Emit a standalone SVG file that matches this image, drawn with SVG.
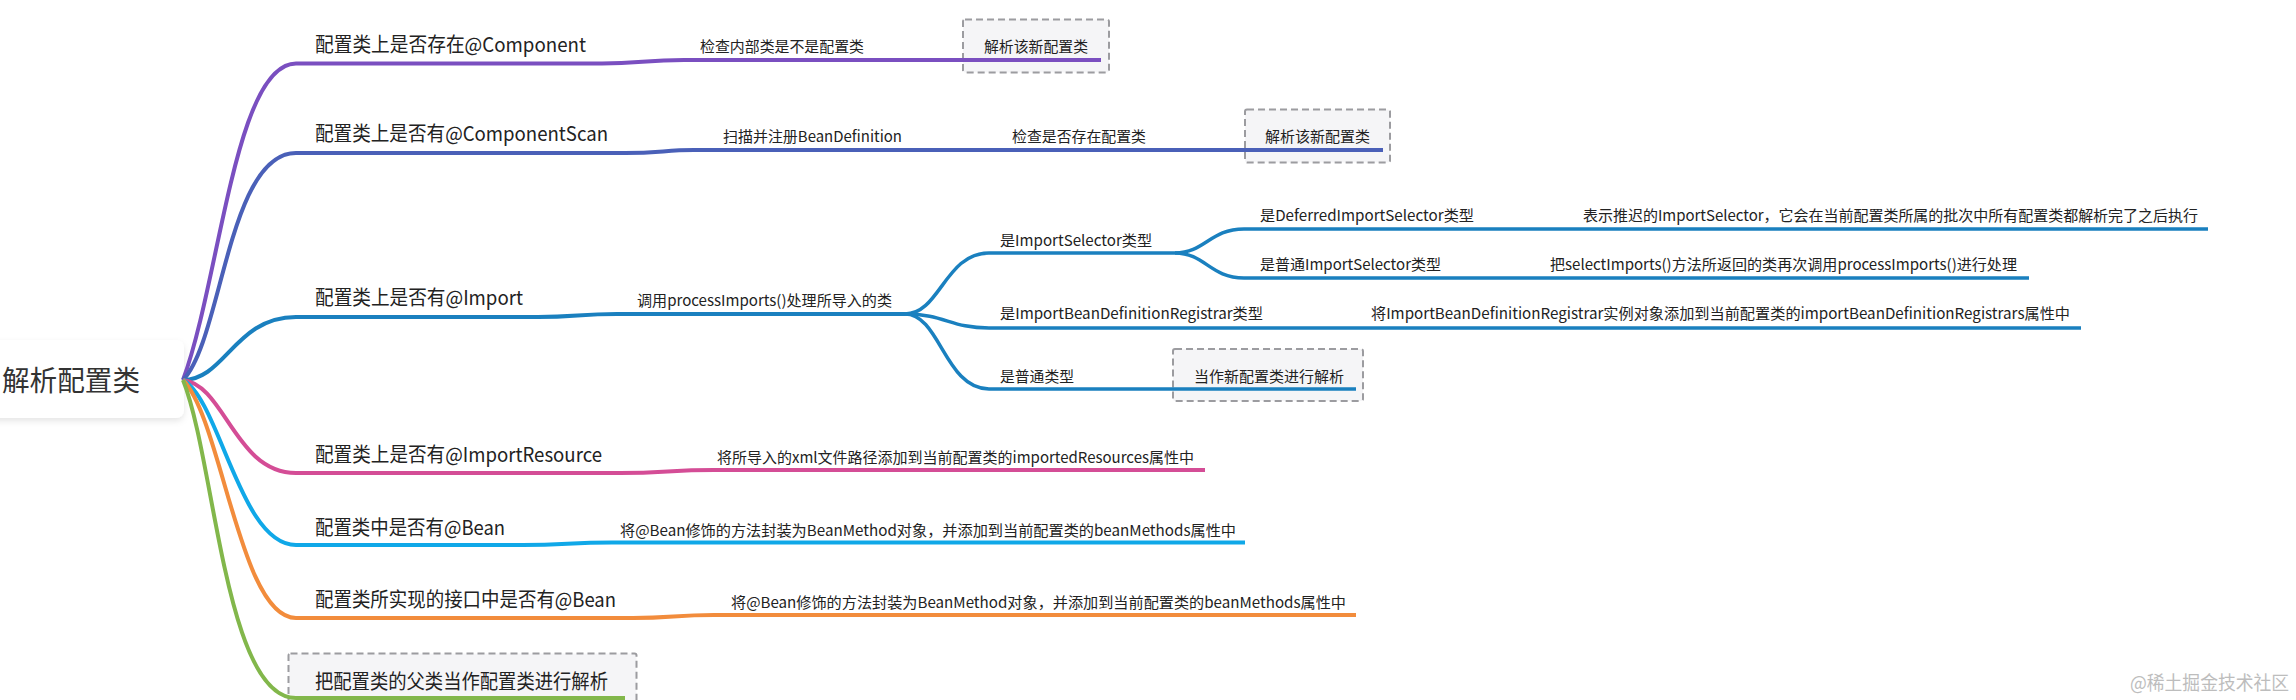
<svg xmlns="http://www.w3.org/2000/svg" width="2296" height="700" viewBox="0 0 2296 700">
<style>
text{font-family:"Noto Sans CJK SC","Noto Sans",sans-serif;fill:#222}
.r{font-size:28px;fill:#333}
.a{font-size:20px}
.b{font-size:15px}
.box{fill:#f5f5f7;stroke:#9c9ca0;stroke-width:2;stroke-dasharray:7 4}
.c{fill:none;stroke-width:4}
.d{stroke-width:3.500}
.wm{font-size:19px;fill:#bdbdbd}
</style>
<defs><filter id="sh" x="-20%" y="-20%" width="140%" height="150%"><feDropShadow dx="0" dy="3" stdDeviation="3" flood-color="#000" flood-opacity="0.1"/></filter></defs>
<rect width="2296" height="700" fill="#fff"/>
<g id="root"><rect x="-20" y="340" width="204" height="78" rx="8" fill="#fff" filter="url(#sh)"/><text class="r" x="2" y="391" textLength="138" lengthAdjust="spacingAndGlyphs">解析配置类</text></g>
<g id="n1"><text class="a" x="315" y="52" textLength="271" lengthAdjust="spacingAndGlyphs">配置类上是否存在@Component</text></g>
<g id="n1a"><text class="b" x="700" y="52" textLength="164" lengthAdjust="spacingAndGlyphs">检查内部类是不是配置类</text></g>
<g id="n1b"><rect class="box" x="963" y="19.500" width="146" height="53" rx="2"/><text class="b" x="984" y="52" textLength="104" lengthAdjust="spacingAndGlyphs">解析该新配置类</text></g>
<g id="n2"><text class="a" x="315" y="141" textLength="293" lengthAdjust="spacingAndGlyphs">配置类上是否有@ComponentScan</text></g>
<g id="n2a"><text class="b" x="723" y="141.500" textLength="179" lengthAdjust="spacingAndGlyphs">扫描并注册BeanDefinition</text></g>
<g id="n2b"><text class="b" x="1012" y="141.500" textLength="134" lengthAdjust="spacingAndGlyphs">检查是否存在配置类</text></g>
<g id="n2c"><rect class="box" x="1245" y="109.500" width="145" height="53" rx="2"/><text class="b" x="1265" y="141.500" textLength="105" lengthAdjust="spacingAndGlyphs">解析该新配置类</text></g>
<g id="n3"><text class="a" x="315" y="305" textLength="208" lengthAdjust="spacingAndGlyphs">配置类上是否有@Import</text></g>
<g id="n3a"><text class="b" x="637" y="306" textLength="255" lengthAdjust="spacingAndGlyphs">调用processImports()处理所导入的类</text></g>
<g id="n3b"><text class="b" x="1000" y="245.500" textLength="152" lengthAdjust="spacingAndGlyphs">是ImportSelector类型</text></g>
<g id="n3c"><text class="b" x="1260" y="220.500" textLength="214" lengthAdjust="spacingAndGlyphs">是DeferredImportSelector类型</text></g>
<g id="n3d"><text class="b" x="1583" y="220.500" textLength="615" lengthAdjust="spacingAndGlyphs">表示推迟的ImportSelector，它会在当前配置类所属的批次中所有配置类都解析完了之后执行</text></g>
<g id="n3e"><text class="b" x="1260" y="269.500" textLength="181" lengthAdjust="spacingAndGlyphs">是普通ImportSelector类型</text></g>
<g id="n3f"><text class="b" x="1550" y="269.500" textLength="467" lengthAdjust="spacingAndGlyphs">把selectImports()方法所返回的类再次调用processImports()进行处理</text></g>
<g id="n3g"><text class="b" x="1000" y="318.500" textLength="263" lengthAdjust="spacingAndGlyphs">是ImportBeanDefinitionRegistrar类型</text></g>
<g id="n3h"><text class="b" x="1371" y="318.500" textLength="699" lengthAdjust="spacingAndGlyphs">将ImportBeanDefinitionRegistrar实例对象添加到当前配置类的importBeanDefinitionRegistrars属性中</text></g>
<g id="n3i"><text class="b" x="1000" y="381.500" textLength="74" lengthAdjust="spacingAndGlyphs">是普通类型</text></g>
<g id="n3j"><rect class="box" x="1173" y="349" width="190" height="52" rx="2"/><text class="b" x="1194" y="381.500" textLength="150" lengthAdjust="spacingAndGlyphs">当作新配置类进行解析</text></g>
<g id="n4"><text class="a" x="315" y="462" textLength="287" lengthAdjust="spacingAndGlyphs">配置类上是否有@ImportResource</text></g>
<g id="n4a"><text class="b" x="717" y="462.500" textLength="477" lengthAdjust="spacingAndGlyphs">将所导入的xml文件路径添加到当前配置类的importedResources属性中</text></g>
<g id="n5"><text class="a" x="315" y="535" textLength="190" lengthAdjust="spacingAndGlyphs">配置类中是否有@Bean</text></g>
<g id="n5a"><text class="b" x="620" y="535.500" textLength="616" lengthAdjust="spacingAndGlyphs">将@Bean修饰的方法封装为BeanMethod对象，并添加到当前配置类的beanMethods属性中</text></g>
<g id="n6"><text class="a" x="315" y="607" textLength="301" lengthAdjust="spacingAndGlyphs">配置类所实现的接口中是否有@Bean</text></g>
<g id="n6a"><text class="b" x="731" y="607.500" textLength="615" lengthAdjust="spacingAndGlyphs">将@Bean修饰的方法封装为BeanMethod对象，并添加到当前配置类的beanMethods属性中</text></g>
<g id="n7"><rect class="box" x="288.500" y="653.500" width="348" height="60" rx="2"/><text class="a" x="315" y="689" textLength="293" lengthAdjust="spacingAndGlyphs">把配置类的父类当作配置类进行解析</text></g>
<g id="connectors">
<path class="c" stroke="#7a4fc0" d="M183,380 C220,280 235,63.500 296,63.500 L602,63.500 C640,63.500 645,60 684,60 L1101,60"/>
<path class="c" stroke="#4a60b8" d="M183,380 C222,340 228,153 296,153 L625,153 C660,153 665,150 694,150 L1383,150"/>
<path class="c" stroke="#1a80bf" d="M183,380 C225,380 235,317 296,317 L538,317 C575,317 580,314 617,314 L905,314"/>
<g class="c" stroke="#1a80bf">
<path class="d" d="M905,314 C940,314 945,253 989,253 L1175,253"/>
<path class="d" d="M905,314 C945,314 950,328 989,328 L2081,328"/>
<path class="d" d="M905,314 C940,314 945,389 989,389 L1356,389"/>
<path class="d" d="M1175,253 C1205,253 1210,229 1244,229 L2208,229"/>
<path class="d" d="M1175,253 C1205,253 1210,278 1244,278 L2029,278"/>
</g>
<path class="c" stroke="#d44d96" d="M183,380 C225,385 235,473 296,473 L620,473 C665,473 670,470 714,470 L1205,470"/>
<path class="c" stroke="#10a8e8" d="M183,380 C220,400 240,545 296,545 L523,545 C565,545 570,542.500 612,542.500 L1245,542.500"/>
<path class="c" stroke="#f28c3c" d="M183,380 C222,420 240,618 296,618 L633,618 C672,618 675,615 714,615 L1356,615"/>
<path class="c" stroke="#82b74b" d="M183,380 C215,460 225,698 296,698 L625,698"/>
</g>
<text class="wm" x="2130" y="690" textLength="159" lengthAdjust="spacingAndGlyphs">@稀土掘金技术社区</text>
</svg>
